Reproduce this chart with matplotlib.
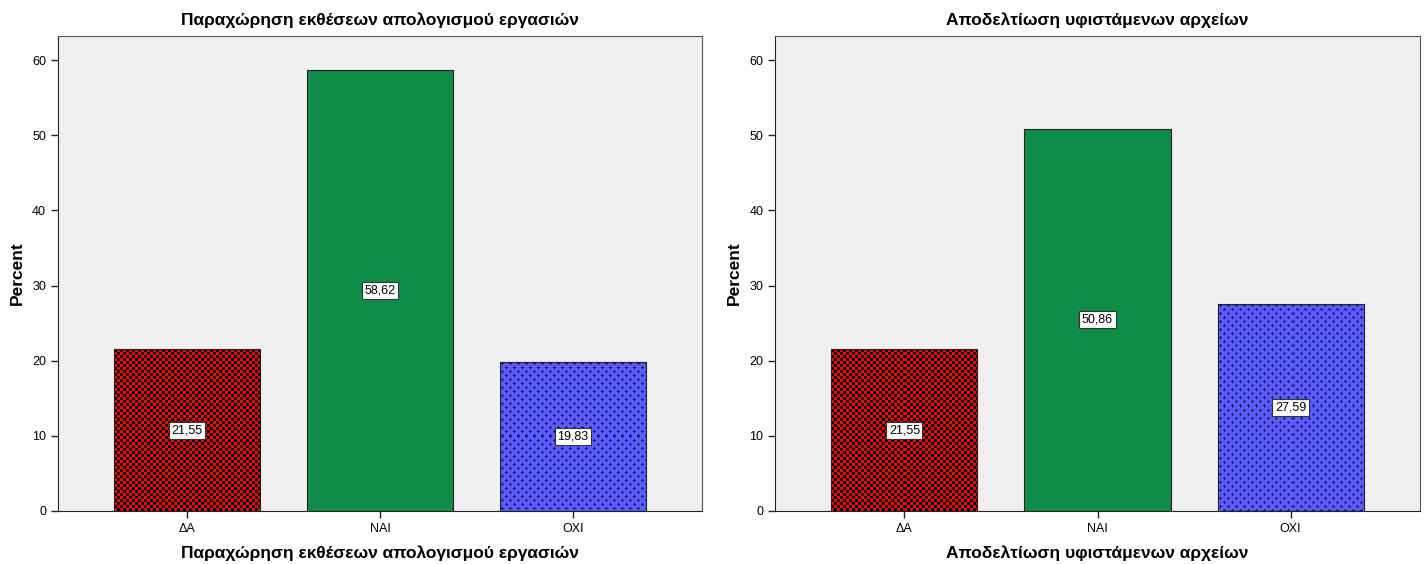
import matplotlib.pyplot as plt
import numpy as np

plt.rcParams['font.family'] = ['Liberation Sans', 'DejaVu Sans']

categories = ['ΔΑ', 'ΝΑΙ', 'ΟΧΙ']
titles = ['Παραχώρηση εκθέσεων απολογισμού εργασιών',
          'Αποδελτίωση υφιστάμενων αρχείων']
values_left = [21.55, 58.62, 19.83]
values_right = [21.55, 50.86, 27.59]
labels_left = ['21,55', '58,62', '19,83']
labels_right = ['21,55', '50,86', '27,59']

red = np.array([255, 0, 0]) / 255
blue = np.array([90, 90, 255]) / 255
navy = np.array([30, 30, 100]) / 255
green = '#0f8c47'


def checker(h, w):
    i, j = np.mgrid[0:h, 0:w]
    m = ((i // 3 + j // 3) % 2).astype(float)[..., None]
    return m * red + (1 - m) * np.zeros(3)


def crosses(h, w):
    i, j = np.mgrid[0:h, 0:w]
    a, b = i % 8, j % 8
    m = np.zeros((h, w), bool)
    for ci, cj in [(2, 2), (6, 6)]:
        di, dj = np.abs(a - ci), np.abs(b - cj)
        m |= ((di <= 1) & (dj == 0)) | ((dj <= 1) & (di == 0))
    m = m[..., None]
    return m * navy + (~m) * blue


fig = plt.figure(figsize=(14.27, 5.64), dpi=100)
positions = [[0.0406, 0.094, 0.4513, 0.8422], [0.5431, 0.094, 0.452, 0.8422]]
fig.canvas.draw()
renderer = fig.canvas.get_renderer()

for pos, title, vals, labs in zip(positions, titles,
                                  [values_left, values_right],
                                  [labels_left, labels_right]):
    ax = fig.add_axes(pos)
    ax.set_facecolor('#f0f0f0')
    x = np.arange(len(categories))
    bars = ax.bar(x, vals, width=0.757, color=['none', green, 'none'],
                  edgecolor='#222222', linewidth=0.8, zorder=3)
    ax.set_xlim(-0.67, 2.67)
    ax.set_ylim(0, 63.2)

    # fill patterns of the first and last bar, clipped to the bar shape
    for k, pattern in [(0, checker), (2, crosses)]:
        b = bars[k]
        bb = b.get_window_extent(renderer)
        h, w = int(round(bb.height)), int(round(bb.width))
        img = pattern(h, w)
        im = ax.imshow(img, extent=(b.get_x(), b.get_x() + b.get_width(),
                                    0, b.get_height()),
                       interpolation='nearest', aspect='auto', zorder=2)
        im.set_clip_path(b)
    ax.set_xlim(-0.67, 2.67)
    ax.set_ylim(0, 63.2)

    for xi, v, lab in zip(x, vals, labs):
        ax.text(xi, v / 2, lab, ha='center', va='center', fontsize=9,
                zorder=5,
                bbox=dict(boxstyle='square,pad=0.2', fc='white',
                          ec='#333333', lw=0.8))

    ax.set_xticks(x)
    ax.set_xticklabels(categories, fontsize=9)
    ax.set_yticks(np.arange(0, 61, 10))
    ax.tick_params(axis='both', direction='out', length=5, width=1,
                   labelsize=9, color='#222222')
    for side in ['top', 'right']:
        ax.spines[side].set_color('#555555')
    for side in ['left', 'bottom']:
        ax.spines[side].set_color('#222222')
    ax.set_title(title, fontsize=12.5, fontweight='bold', pad=8)
    ax.set_xlabel(title, fontsize=12.5, fontweight='bold', labelpad=8)
    ax.set_ylabel('Percent', fontsize=12.5, fontweight='bold', labelpad=5)

fig.savefig('out.png', dpi=100)
